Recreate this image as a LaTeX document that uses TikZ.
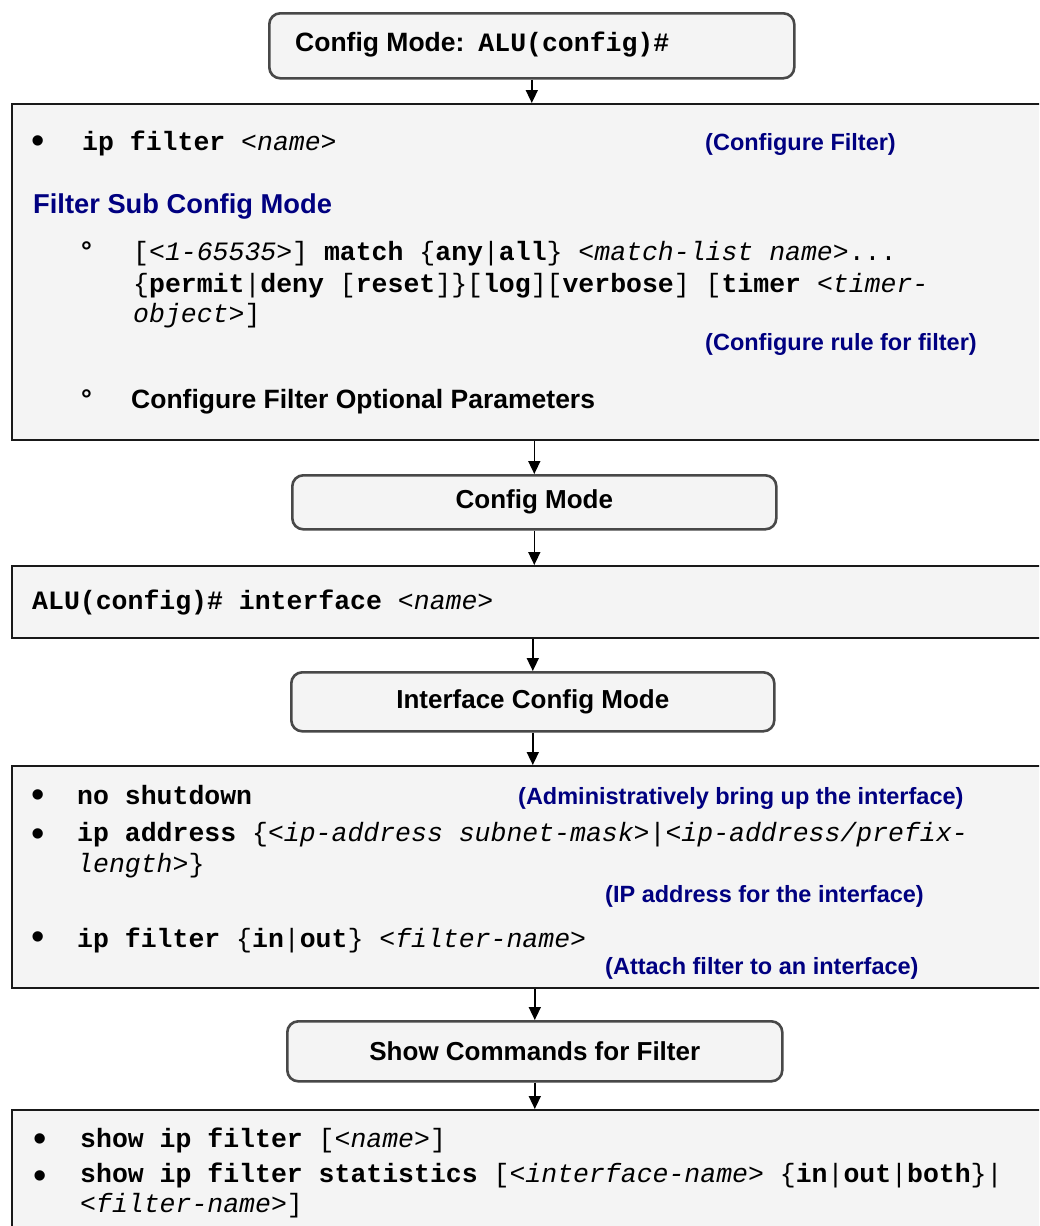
\documentclass[tikz,border=0pt]{standalone}
\usepackage{fontspec}
\setmainfont{Liberation Sans}
\newfontfamily\monofam{Liberation Mono}
\usetikzlibrary{arrows.meta}
\definecolor{boxfill}{HTML}{F4F4F4}
\definecolor{navy}{HTML}{000080}
\definecolor{rborder}{HTML}{484848}
\newcommand\kw[1]{\textbf{#1}}
\newcommand\pv[1]{\textit{#1}}

\begin{document}
\begin{tikzpicture}[x=1pt,y=-1pt,
  panel/.style={draw=black!90, line width=2pt, fill=boxfill, inner sep=0pt, anchor=north west},
  modebox/.style={draw=rborder, line width=2.6pt, fill=boxfill, rounded corners=11pt,
    inner sep=0pt, anchor=north west, font=\fontsize{26}{30}\selectfont\bfseries},
  flow/.style={line width=1.6pt, -{Triangle[length=13pt,width=12pt]}},
  cmd/.style={anchor=base west, inner sep=0pt, font=\fontsize{26.5}{31}\selectfont\monofam},
  note/.style={anchor=base west, inner sep=0pt, text=navy, font=\fontsize{23.5}{28}\selectfont\bfseries},
  head/.style={anchor=base west, inner sep=0pt, font=\fontsize{26.5}{30}\selectfont\bfseries},
  dot/.style={anchor=base, inner sep=0pt, font=\fontsize{38}{40}\selectfont},
  ring/.style={anchor=base west, inner sep=0pt, font=\fontsize{27}{30}\selectfont\bfseries},
]
\useasboundingbox (0,0) rectangle (1039,1226);
\clip (0,0) rectangle (1039,1226);
\fill[white] (0,0) rectangle (1039,1226);

% boxes
\node[modebox, minimum width=525pt, minimum height=65pt] (m1) at (268,12) {};
\node[panel, minimum width=1049pt, minimum height=336pt] (b1) at (11,103) {};
\node[modebox, minimum width=484pt, minimum height=54pt] (m2) at (291,474) {Config Mode};
\node[panel, minimum width=1049pt, minimum height=72pt] (b2) at (11,565) {};
\node[modebox, minimum width=483pt, minimum height=59pt] (m3) at (290,671) {Interface Config Mode};
\node[panel, minimum width=1049pt, minimum height=222pt] (b3) at (11,765) {};
\node[modebox, minimum width=495pt, minimum height=60pt] (m4) at (286,1020) {Show Commands for Filter};
\node[panel, minimum width=1049pt, minimum height=140pt] (b4) at (11,1109) {};

% connectors
\draw[flow] (m1.south) -- (m1.south |- b1.north);
\draw[flow] (m2.north |- b1.south) -- (m2.north);
\draw[flow] (m2.south) -- (m2.south |- b2.north);
\draw[flow] (m3.north |- b2.south) -- (m3.north);
\draw[flow] (m3.south) -- (m3.south |- b3.north);
\draw[flow] (m4.north |- b3.south) -- (m4.north);
\draw[flow] (m4.south) -- (m4.south |- b4.north);

% top mode box
\node[head] (t1) at (295,51) {Config Mode:\hspace{14pt}{\monofam ALU(config)\#}};

% filter panel
\node[dot] (d1) at (38,153) {•};
\node[cmd] (c1) at (82,150) {\kw{ip filter} \pv{<name>}};
\node[note] (n1) at (705,150) {(Configure Filter)};
\node[anchor=base west, inner sep=0pt, text=navy, font=\fontsize{27.3}{32}\selectfont\bfseries] (h1) at (33,213) {Filter Sub Config Mode};
\node[ring] (o1) at (81,260) {°};
\node[cmd] (c2) at (133,260) {[\pv{<1-65535>}] \kw{match} \{\kw{any}|\kw{all}\} \pv{<match-list name>}...};
\node[cmd] (c3) at (133,292) {\{\kw{permit}|\kw{deny} [\kw{reset}]\}[\kw{log}][\kw{verbose}] [\kw{timer} \pv{<timer-}};
\node[cmd] (c4) at (133,322) {\pv{object>}]};
\node[note] (n2) at (705,350) {(Configure rule for filter)};
\node[ring] (o2) at (81,408) {°};
\node[head] (c5) at (131,408) {Configure Filter Optional Parameters};

% interface line
\node[cmd] (c6) at (32,609) {\kw{ALU(config)\# interface} \pv{<name>}};

% interface panel
\node[dot] (d2) at (38,807) {•};
\node[cmd] (c7) at (77,804) {\kw{no shutdown}};
\node[note] (n3) at (518,804) {(Administratively bring up the interface)};
\node[dot] (d3) at (38,846) {•};
\node[cmd] (c8) at (77,841) {\kw{ip address} \{\pv{<ip-address subnet-mask>}|\pv{<ip-address/prefix-}};
\node[cmd] (c9) at (77,872) {\pv{length>}\}};
\node[note] (n4) at (605,902) {(IP address for the interface)};
\node[dot] (d4) at (38,949) {•};
\node[cmd] (c10) at (77,947) {\kw{ip filter} \{\kw{in}|\kw{out}\} \pv{<filter-name>}};
\node[note] (n5) at (605,974) {(Attach filter to an interface)};

% show panel
\node[dot] (d5) at (40,1151) {•};
\node[cmd] (c11) at (80,1147) {\kw{show ip filter} [\pv{<name>}]};
\node[dot] (d6) at (40,1188) {•};
\node[cmd] (c12) at (80,1182) {\kw{show ip filter statistics} [\pv{<interface-name>} \{\kw{in}|\kw{out}|\kw{both}\}|};
\node[cmd] (c13) at (80,1212) {\pv{<filter-name>}]};
\end{tikzpicture}
\end{document}
